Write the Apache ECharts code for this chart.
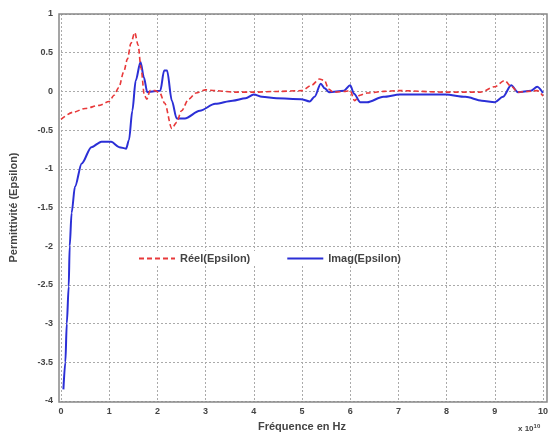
<!DOCTYPE html>
<html>
<head>
<meta charset="utf-8">
<script src="https://cdn.jsdelivr.net/npm/echarts@6/dist/echarts.min.js"></script>
<style>
  html, body { margin: 0; padding: 0; background: #fff; }
  #chart { width: 551px; height: 437px; }
</style>
</head>
<body>
<div id="chart"></div>
<script>
// frequences (x 10^10 Hz) et valeurs
const freqReel = [0, 0.25, 0.5, 0.8, 1.0, 1.1, 1.2, 1.3, 1.38, 1.45, 1.53, 1.6, 1.66, 1.73, 1.78, 1.85, 1.95, 2.05, 2.15, 2.3, 2.4, 2.5, 2.65, 2.8, 3.0, 3.2, 3.6, 4.0, 4.5, 5.0, 5.2, 5.36, 5.47, 5.55, 5.65, 5.9, 6.0, 6.09, 6.2, 6.35, 6.7, 7.0, 8.0, 8.7, 9.0, 9.2, 9.35, 9.48, 9.7, 9.88, 10];
const reel = [-0.36, -0.27, -0.22, -0.18, -0.13, -0.05, 0.05, 0.25, 0.42, 0.62, 0.76, 0.6, 0.3, -0.05, -0.1, 0.01, 0.01, -0.02, -0.15, -0.48, -0.4, -0.25, -0.1, -0.02, 0.02, 0.01, -0.01, -0.01, 0.0, 0.01, 0.08, 0.16, 0.14, 0.03, -0.01, 0.0, 0.01, -0.12, -0.05, -0.02, 0.0, 0.01, -0.01, -0.01, 0.06, 0.14, 0.06, -0.01, 0.0, 0.01, -0.06];

const freqImag = [0.05, 0.09, 0.12, 0.16, 0.18, 0.22, 0.29, 0.43, 0.63, 0.84, 1.04, 1.21, 1.35, 1.41, 1.48, 1.55, 1.65, 1.72, 1.79, 1.9, 2.06, 2.14, 2.2, 2.3, 2.4, 2.57, 2.88, 3.2, 3.56, 3.83, 4.0, 4.17, 4.47, 4.98, 5.16, 5.26, 5.39, 5.47, 5.56, 5.87, 6.0, 6.08, 6.21, 6.35, 6.69, 7.03, 7.98, 8.39, 8.73, 9.0, 9.17, 9.34, 9.48, 9.75, 9.88, 10];
const imag = [-3.85, -3.5, -3.0, -2.52, -2.0, -1.57, -1.23, -0.93, -0.72, -0.65, -0.65, -0.72, -0.74, -0.63, -0.25, 0.14, 0.38, 0.18, -0.01, 0.0, 0.01, 0.27, 0.27, -0.12, -0.35, -0.35, -0.25, -0.16, -0.12, -0.09, -0.04, -0.07, -0.09, -0.1, -0.13, -0.07, 0.1, 0.04, -0.01, 0.01, 0.08, -0.03, -0.14, -0.14, -0.07, -0.04, -0.04, -0.07, -0.12, -0.14, -0.07, 0.08, -0.01, 0.01, 0.06, -0.02];

const xTicks = [0, 1, 2, 3, 4, 5, 6, 7, 8, 9, 10];
const yTicks = [1, 0.5, 0, -0.5, -1, -1.5, -2, -2.5, -3, -3.5, -4];

const pairs = (xs, ys) => xs.map((x, i) => [x, ys[i]]);

const chart = echarts.init(document.getElementById('chart'), null, { renderer: 'canvas' });

const txt = '#444';
const font = 'Liberation Sans, Arial, sans-serif';

const option = {
  backgroundColor: '#fff',
  animation: false,
  textStyle: { fontFamily: font },
  grid: { left: 59, right: 4, top: 14, bottom: 35 },
  legend: {
    data: ['Réel(Epsilon)', 'Imag(Epsilon)'],
    left: 134, top: 251,
    itemWidth: 36, itemHeight: 10, itemGap: 36,
    itemStyle: { opacity: 0 },
    backgroundColor: '#fff',
    padding: [2, 4],
    textStyle: { fontSize: 11, fontWeight: 'bold', color: txt, fontFamily: font }
  },
  xAxis: {
    type: 'value', min: 0, max: 10, interval: 1,
    name: 'Fréquence en Hz', nameLocation: 'middle', nameGap: 20,
    nameTextStyle: { fontSize: 11, fontWeight: 'bold', color: txt },
    axisLine: { show: false, onZero: false },
    axisTick: { show: false },
    axisLabel: { fontSize: 9, fontWeight: 'bold', color: txt, margin: 6,
      formatter: v => xTicks.includes(v) ? String(v) : '' },
    splitLine: { show: true, lineStyle: { color: '#aaa', type: [2, 2], width: 1 } }
  },
  yAxis: {
    type: 'value', min: -4, max: 1, interval: 0.5,
    name: 'Permittivité (Epsilon)', nameLocation: 'middle', nameGap: 42, nameRotate: 90,
    nameTextStyle: { fontSize: 11, fontWeight: 'bold', color: txt },
    axisLine: { show: false, onZero: false },
    axisTick: { show: false },
    axisLabel: { fontSize: 9, fontWeight: 'bold', color: txt, margin: 8,
      formatter: v => yTicks.includes(v) ? String(v) : '' },
    splitLine: { show: true, lineStyle: { color: '#aaa', type: [2, 2], width: 1 } }
  },
  graphic: [
    { type: 'rect', shape: { x: 59, y: 14, width: 488, height: 388 },
      style: { fill: 'none', stroke: '#888', lineWidth: 1.5 }, silent: true, z: 100 },
    { type: 'text', left: 518, top: 423,
      style: { text: 'x 10{s|10}', fill: txt, font: 'bold 8px ' + font,
        rich: { s: { fontSize: 6, fontWeight: 'bold', verticalAlign: 'top', padding: [0, 0, 6, 0] } } } }
  ],
  series: [
    {
      name: 'Réel(Epsilon)', type: 'line', symbol: 'none',
      smooth: 0.3, smoothMonotone: 'x',
      data: pairs(freqReel, reel),
      lineStyle: { color: '#e8393a', width: 1.6, type: [5, 3] },
      itemStyle: { color: '#e8393a' },
      z: 3
    },
    {
      name: 'Imag(Epsilon)', type: 'line', symbol: 'none',
      smooth: 0.3, smoothMonotone: 'x',
      data: pairs(freqImag, imag),
      lineStyle: { color: '#2b2fd6', width: 2 },
      itemStyle: { color: '#2b2fd6' },
      z: 2
    }
  ]
};

chart.setOption(option);
</script>
</body>
</html>
